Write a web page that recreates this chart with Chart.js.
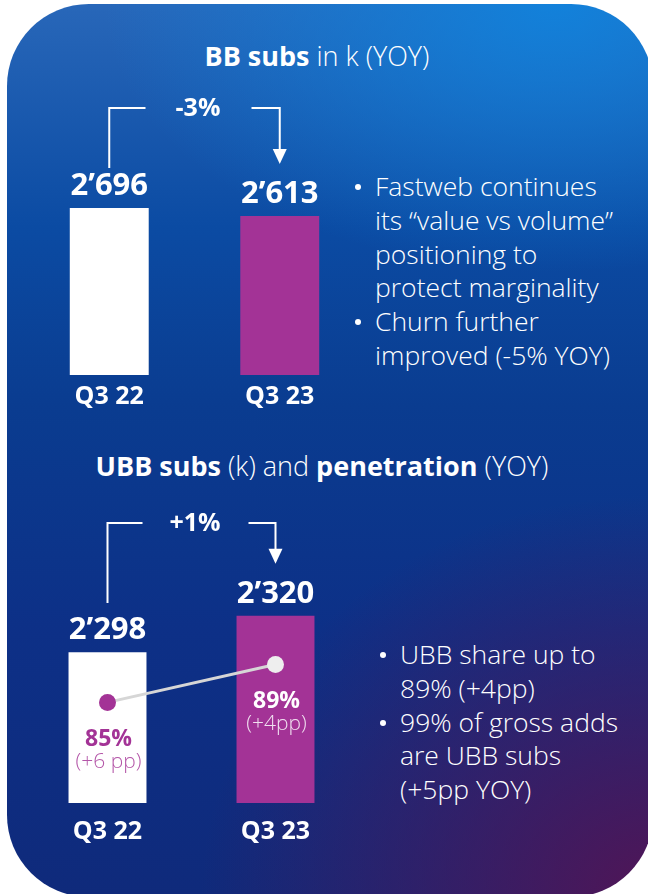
<!DOCTYPE html>
<html>
<head>
<meta charset="utf-8">
<script src="https://cdn.jsdelivr.net/npm/chart.js@4"></script>
<style>
  html, body { margin: 0; padding: 0; background: #ffffff; }
  body { width: 648px; height: 894px; position: relative; overflow: hidden; font-family: "Open Sans", sans-serif; }
  .card {
    position: absolute; left: 7px; top: 4px; width: 646px; height: 893px;
    border-radius: 82px;
    background:
      radial-gradient(ellipse 70% 45% at 100% 100%, rgba(84,20,84,0.95) 0%, rgba(84,20,84,0) 100%),
      radial-gradient(ellipse 70% 30% at 85% 0%, rgba(16,132,222,0.9) 0%, rgba(16,132,222,0) 100%),
      linear-gradient(180deg, #2867b9 0%, #0b4ba3 25%, #0a3c90 45%, #0d3087 70%, #0f2a7b 100%);
  }
  canvas { position: absolute; left: 0; top: 0; }
  .title { position: absolute; width: 648px; text-align: center; color: #fff; font-size: 27px; font-weight: 300; white-space: nowrap; }
  .title b { font-weight: 700; }
  .bullets { position: absolute; color: #fff; font-size: 26.5px; font-weight: 300; line-height: 33.8px; margin: 0; padding: 0; list-style: none; white-space: nowrap; }
  .bullets li { position: relative; padding-left: 20px; }
  .bullets li::before { content: ""; position: absolute; left: 0; top: 14px; width: 6px; height: 6px; border-radius: 50%; background: #fff; }
</style>
</head>
<body>
<div class="card"></div>
<div class="title" style="top:37px; left:-7px;"><b>BB subs</b> in k (YOY)</div>
<div class="title" style="top:447px; left:-2px;"><b>UBB subs</b> (k) and <b>penetration</b> (YOY)</div>
<ul class="bullets" style="left:355px; top:170px;">
  <li>Fastweb continues<br>its “value vs volume”<br>positioning to<br>protect marginality</li>
  <li>Churn further<br>improved (-5% YOY)</li>
</ul>
<ul class="bullets" style="left:380px; top:638px;">
  <li>UBB share up to<br>89% (+4pp)</li>
  <li>99% of gross adds<br>are UBB subs<br>(+5pp YOY)</li>
</ul>
<canvas id="bbChart" width="648" height="894"></canvas>
<canvas id="ubbChart" width="648" height="894"></canvas>
<script>
// данные
const quarters = ['Q3 22', 'Q3 23'];
const bbSubs = [2696, 2613];
const bbChange = '-3%';
const ubbSubs = [2298, 2320];
const ubbChange = '+1%';
const ubbPenetration = [85, 89];
const ubbPenDelta = ['(+6 pp)', '(+4pp)'];

const barColors = ['#ffffff', '#a33396'];
const FONT = '"Open Sans", sans-serif';

function fmt(v) {
    return String(v).replace(/\B(?=(\d{3})+(?!\d))/g, '’');
}

// подписи, скобка со стрелкой
const labelsPlugin = {
    id: 'labels',
    afterDatasetsDraw(chart, args, opts) {
        const ctx = chart.ctx;
        const bars = chart.getDatasetMeta(0).data;
        const values = chart.data.datasets[0].data;
        const bottom = chart.chartArea.bottom;
        ctx.save();
        ctx.fillStyle = '#ffffff';
        ctx.textAlign = 'center';
        ctx.textBaseline = 'alphabetic';

        bars.forEach((bar, i) => {
            ctx.font = 'bold 31px ' + FONT;
            ctx.fillText(fmt(values[i]), bar.x, bar.y - 13);
            ctx.font = 'bold 25px ' + FONT;
            ctx.fillText(chart.data.labels[i], bar.x, bottom + opts.catOffset);
        });

        // скобка
        const x1 = bars[0].x, x2 = bars[1].x;
        const mid = (x1 + x2) / 2;
        const y = opts.bracketY;
        const tip = bars[1].y - 52;
        ctx.strokeStyle = '#ffffff';
        ctx.lineWidth = 2;
        ctx.beginPath();
        ctx.moveTo(x1, opts.leftEnd);
        ctx.lineTo(x1, y);
        ctx.lineTo(mid - 49, y);
        ctx.moveTo(mid + 57, y);
        ctx.lineTo(x2, y);
        ctx.lineTo(x2, tip - 14);
        ctx.stroke();
        ctx.beginPath();
        ctx.moveTo(x2 - 7, tip - 15);
        ctx.lineTo(x2 + 7, tip - 15);
        ctx.lineTo(x2, tip);
        ctx.closePath();
        ctx.fill();

        ctx.font = 'bold 25px ' + FONT;
        ctx.textBaseline = 'middle';
        ctx.fillText(opts.change, mid + 3.5, y + 1);

        // проникновение
        if (opts.penetration) {
            const pts = chart.getDatasetMeta(1).data;
            pts.forEach((p, i) => {
                ctx.fillStyle = i === 0 ? '#a33396' : '#ffffff';
                ctx.font = 'bold 23px ' + FONT;
                ctx.fillText(opts.penetration[i] + '%', bars[i].x + 1, p.y + 37);
                ctx.fillStyle = i === 0 ? '#b456a8' : '#f0e0f0';
                ctx.font = '300 21px ' + FONT;
                ctx.fillText(opts.penDelta[i], bars[i].x + 1, p.y + 60);
            });
        }
        ctx.restore();
    }
};

// BB subs
new Chart(document.getElementById('bbChart'), {
    type: 'bar',
    data: {
        labels: quarters,
        datasets: [{
            data: bbSubs,
            backgroundColor: barColors,
            borderWidth: 0,
            categoryPercentage: 1,
            barPercentage: 0.463
        }]
    },
    options: {
        responsive: false,
        animation: false,
        layout: { padding: { left: 24, right: 283, top: 121, bottom: 519 } },
        scales: {
            x: { display: false },
            y: { display: false, min: 960, max: 3600 }
        },
        plugins: {
            legend: { display: false },
            tooltip: { enabled: false },
            labels: { catOffset: 29, bracketY: 108, leftEnd: 168, change: bbChange }
        }
    },
    plugins: [labelsPlugin]
});

// UBB subs и проникновение
new Chart(document.getElementById('ubbChart'), {
    type: 'bar',
    data: {
        labels: quarters,
        datasets: [{
            data: ubbSubs,
            backgroundColor: barColors,
            borderWidth: 0,
            categoryPercentage: 1,
            barPercentage: 0.464,
            order: 1
        }, {
            type: 'line',
            data: ubbPenetration,
            yAxisID: 'y2',
            borderColor: '#d6d6d6',
            borderWidth: 3,
            pointRadius: 8.5,
            pointBorderWidth: 0,
            pointBackgroundColor: ['#a33396', '#eeeeee'],
            order: 0
        }]
    },
    options: {
        responsive: false,
        animation: false,
        layout: { padding: { left: 23.5, right: 288.5, top: 561, bottom: 91 } },
        scales: {
            x: { display: false },
            y: { display: false, min: 2207, max: 2353 },
            y2: { display: false, min: 74.4, max: 99.9 }
        },
        plugins: {
            legend: { display: false },
            tooltip: { enabled: false },
            labels: {
                catOffset: 36, bracketY: 523, leftEnd: 603, change: ubbChange,
                penetration: ubbPenetration, penDelta: ubbPenDelta
            }
        }
    },
    plugins: [labelsPlugin]
});
</script>
</body>
</html>
